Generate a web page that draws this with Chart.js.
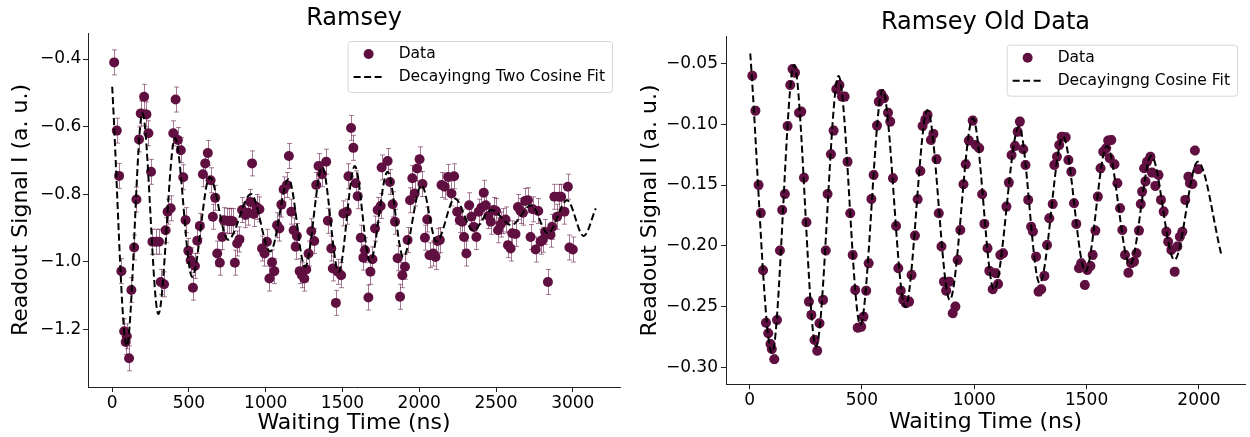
<!DOCTYPE html>
<html>
<head>
<meta charset="utf-8">
<script src="https://cdn.jsdelivr.net/npm/chart.js@4.4.1/dist/chart.umd.min.js"></script>
<style>
  html, body { margin: 0; padding: 0; background: #fff; }
  #wrap { position: relative; width: 1250px; height: 437px; overflow: hidden; }
  #wrap canvas { position: absolute; top: 0; }
</style>
</head>
<body>
<div id="wrap">
  <canvas id="newChart" width="625" height="437" style="left:0"></canvas>
  <canvas id="oldChart" width="625" height="437" style="left:625px"></canvas>
</div>
<script>
// Ramsey (new) - measured points [time ns, signal]
const newPoints = [
  [13,-0.41],[30,-0.612],[45,-0.746],[60,-1.028],[78,-1.206],[88,-1.238],[95,-1.221],[110,-1.286],
  [125,-1.084],[143,-0.958],[158,-0.816],[175,-0.638],[186,-0.561],[208,-0.512],[223,-0.564],[236,-0.62],
  [253,-0.734],[262,-0.941],[284,-0.941],[305,-0.941],[316,-1.06],[338,-1.067],[348,-0.907],[361,-0.852],
  [381,-0.842],[398,-0.62],[413,-0.52],[428,-0.64],[447,-0.67],[463,-0.75],[478,-0.877],[496,-0.968],
  [511,-0.996],[526,-1.077],[539,-1.013],[554,-0.938],[571,-0.894],[591,-0.741],[606,-0.709],[623,-0.678],
  [641,-0.759],[656,-0.867],[671,-0.811],[684,-0.976],[701,-1.003],[716,-0.927],[727,-0.877],[749,-0.879],
  [760,-0.88],[771,-0.879],[785,-0.88],[799,-1.003],[814,-0.946],[829,-0.934],[846,-0.847],[868,-0.862],
  [885,-0.855],[900,-0.823],[911,-0.709],[922,-0.859],[940,-0.838],[959,-0.845],[976,-0.961],[992,-0.976],
  [1008,-0.941],[1024,-1.05],[1041,-1.002],[1056,-1.028],[1074,-0.892],[1089,-0.902],[1102,-0.831],[1117,-0.786],
  [1138,-0.773],[1151,-0.687],[1167,-0.852],[1182,-0.907],[1195,-0.956],[1203,-0.924],[1221,-1.028],[1236,-1.04],
  [1251,-1.05],[1264,-1.023],[1279,-0.976],[1297,-0.91],[1316,-0.939],[1329,-0.773],[1344,-0.717],[1366,-0.741],
  [1394,-0.704],[1405,-0.879],[1427,-0.961],[1437,-1.02],[1457,-1.122],[1470,-1.03],[1491,-1.04],[1506,-0.857],
  [1528,-0.852],[1539,-0.747],[1556,-0.604],[1571,-0.663],[1586,-0.768],[1599,-0.806],[1619,-0.929],[1636,-0.988],
  [1647,-0.966],[1669,-1.106],[1682,-1.03],[1695,-0.993],[1712,-0.902],[1729,-0.847],[1749,-0.835],[1755,-0.721],
  [1794,-0.702],[1809,-0.764],[1827,-0.83],[1842,-0.882],[1859,-0.99],[1875,-1.104],[1890,-1.04],[1907,-1.015],
  [1924,-0.936],[1940,-0.818],[1955,-0.753],[1970,-0.798],[1986,-0.724],[2002,-0.697],[2021,-0.77],[2037,-0.929],
  [2052,-0.875],[2067,-0.981],[2091,-0.976],[2106,-0.986],[2119,-0.939],[2134,-0.936],[2145,-0.773],[2166,-0.778],
  [2188,-0.749],[2210,-0.798],[2227,-0.747],[2247,-0.852],[2264,-0.877],[2280,-0.882],[2292,-0.927],[2307,-0.976],
  [2325,-0.833],[2340,-0.867],[2355,-0.897],[2372,-0.927],[2387,-0.852],[2405,-0.84],[2420,-0.796],[2433,-0.833],
  [2450,-0.865],[2466,-0.882],[2485,-0.847],[2500,-0.85],[2513,-0.907],[2530,-0.89],[2545,-0.88],[2562,-0.875],
  [2578,-0.951],[2595,-0.961],[2606,-0.916],[2627,-0.918],[2643,-0.838],[2660,-0.85],[2675,-0.855],[2690,-0.82],
  [2708,-0.818],[2725,-0.927],[2740,-0.845],[2758,-0.964],[2775,-0.85],[2790,-0.941],[2805,-0.935],[2820,-0.912],
  [2838,-1.06],[2855,-0.92],[2866,-0.897],[2880,-0.808],[2898,-0.867],[2910,-0.808],[2924,-0.808],[2946,-0.852],
  [2968,-0.778],[2978,-0.958],[3000,-0.964]
];
const newErr = 0.037;
// fit curve (turning points)
const newFit = [
  [0,-0.482],[95,-1.25],[197,-0.56],[301,-1.155],[409,-0.634],[521,-1.045],[635,-0.75],[755,-0.935],
  [905,-0.80],[1030,-0.97],[1149,-0.755],[1257,-1.015],[1368,-0.72],[1475,-1.03],[1580,-0.717],[1680,-1.0],
  [1794,-0.734],[1896,-0.986],[2015,-0.773],[2113,-0.941],[2232,-0.813],[2351,-0.907],[2470,-0.847],[2600,-0.892],
  [2729,-0.833],[2838,-0.916],[2963,-0.818],[3071,-0.924],[3150,-0.842]
];
const newXTicks = [0, 500, 1000, 1500, 2000, 2500, 3000];
const newYTicks = [-1.2, -1.0, -0.8, -0.6, -0.4];

// Ramsey old data
const oldPoints = [
  [12,-0.0602],[26,-0.0889],[40,-0.15],[50,-0.173],[60,-0.22],[73,-0.263],[83,-0.2717],[93,-0.2805],
  [99,-0.2846],[110,-0.293],[122,-0.2608],[135,-0.2038],[145,-0.1705],[157,-0.1573],[169,-0.1015],[181,-0.0678],
  [191,-0.0547],[202,-0.0577],[220,-0.0906],[230,-0.0897],[242,-0.144],[253,-0.1806],[264,-0.2457],[275,-0.2566],
  [289,-0.2772],[301,-0.286],[311,-0.2635],[327,-0.2443],[339,-0.2038],[347,-0.1573],[362,-0.1247],[374,-0.1053],
  [386,-0.0714],[400,-0.0678],[411,-0.0774],[423,-0.0774],[436,-0.1308],[448,-0.1732],[459,-0.2074],[470,-0.2361],
  [481,-0.2671],[497,-0.2663],[507,-0.2581],[519,-0.2367],[530,-0.2142],[542,-0.1614],[552,-0.1417],[567,-0.1012],
  [575,-0.0815],[586,-0.0752],[598,-0.0788],[616,-0.0906],[626,-0.0979],[638,-0.1444],[652,-0.1836],[662,-0.2183],
  [673,-0.2367],[684,-0.2443],[695,-0.247],[710,-0.2457],[721,-0.2238],[736,-0.1915],[748,-0.1617],[760,-0.1384],
  [770,-0.1015],[782,-0.0965],[792,-0.0924],[807,-0.113],[818,-0.108],[832,-0.1288],[842,-0.1732],[854,-0.2005],
  [865,-0.2293],[875,-0.2367],[889,-0.2293],[904,-0.2553],[916,-0.2498],[926,-0.2115],[938,-0.1869],[952,-0.1493],
  [962,-0.1329],[976,-0.1135],[993,-0.0971],[1007,-0.1171],[1022,-0.1198],[1035,-0.1576],[1045,-0.1819],[1059,-0.2019],
  [1067,-0.2205],[1082,-0.2356],[1095,-0.2224],[1106,-0.2312],[1116,-0.2074],[1128,-0.206],[1143,-0.1677],[1154,-0.148],
  [1166,-0.1253],[1181,-0.1179],[1193,-0.1062],[1203,-0.0979],[1218,-0.1206],[1228,-0.1335],[1240,-0.1622],[1253,-0.1842],
  [1261,-0.1882],[1275,-0.2088],[1286,-0.2375],[1298,-0.2356],[1312,-0.2246],[1324,-0.1992],[1334,-0.1773],[1349,-0.1655],
  [1356,-0.1335],[1368,-0.1267],[1378,-0.1171],[1389,-0.1103],[1407,-0.1108],[1419,-0.1294],[1432,-0.139],[1444,-0.165],
  [1454,-0.1819],[1466,-0.2183],[1476,-0.2142],[1492,-0.232],[1503,-0.2197],[1517,-0.2164],[1527,-0.2074],[1539,-0.1874],
  [1550,-0.1595],[1562,-0.1362],[1574,-0.1226],[1587,-0.1198],[1596,-0.1135],[1603,-0.128],[1610,-0.113],[1624,-0.1329],
  [1637,-0.1485],[1649,-0.169],[1659,-0.1869],[1671,-0.2074],[1686,-0.222],[1698,-0.2142],[1711,-0.2129],[1722,-0.206],
  [1733,-0.1874],[1741,-0.1655],[1747,-0.1554],[1756,-0.1362],[1762,-0.147],[1769,-0.1308],[1784,-0.1267],[1791,-0.1398],
  [1806,-0.1507],[1820,-0.1417],[1831,-0.1622],[1843,-0.1718],[1855,-0.1883],[1863,-0.1965],[1877,-0.2033],[1892,-0.2211],
  [1904,-0.2005],[1915,-0.1924],[1926,-0.1883],[1939,-0.1622],[1953,-0.1431],[1960,-0.1485],[1971,-0.1491],[1982,-0.1217],
  [1996,-0.137]
];
const oldErr = 0.0035;
const oldFit = [
  [3,-0.042],[100,-0.288],[198,-0.0514],[296,-0.2827],[396,-0.0604],[493,-0.2649],[592,-0.0719],[693,-0.2503],
  [792,-0.0884],[891,-0.2443],[994,-0.0952],[1088,-0.236],[1199,-0.102],[1291,-0.2306],[1395,-0.1103],[1495,-0.221],
  [1590,-0.118],[1693,-0.2156],[1788,-0.126],[1891,-0.2115],[1995,-0.1308],[2100,-0.2074]
];
const oldXTicks = [0, 500, 1000, 1500, 2000];
const oldYTicks = [-0.30, -0.25, -0.20, -0.15, -0.10, -0.05];

const markerColor = '#5f0f40';
const errColor = 'rgba(95, 15, 64, 0.55)';
const fontFamily = '"DejaVu Sans", sans-serif';

Chart.defaults.font.family = fontFamily;
Chart.defaults.color = '#000';

const toXY = (pts) => pts.map(p => ({ x: p[0], y: p[1] }));
const minus = (s) => s.replace('-', '\u2212');

// vertical error bars under the markers
const errorBars = {
    id: 'errorBars',
    beforeDatasetsDraw(chart, args, opts) {
        const { ctx, chartArea, scales: { x, y } } = chart;
        const ds = chart.data.datasets[opts.index];
        ctx.save();
        ctx.beginPath();
        ctx.rect(chartArea.left, chartArea.top, chartArea.width, chartArea.height);
        ctx.clip();
        ctx.strokeStyle = opts.color;
        ctx.lineWidth = 1;
        ds.data.forEach(p => {
            const px = Math.round(x.getPixelForValue(p.x)) + 0.5;
            const top = y.getPixelForValue(p.y + opts.err);
            const bot = y.getPixelForValue(p.y - opts.err);
            ctx.beginPath();
            ctx.moveTo(px, top); ctx.lineTo(px, bot);
            ctx.moveTo(px - opts.cap, top); ctx.lineTo(px + opts.cap, top);
            ctx.moveTo(px - opts.cap, bot); ctx.lineTo(px + opts.cap, bot);
            ctx.stroke();
        });
        ctx.restore();
    }
};

// matplotlib-like legend box in the upper right corner
const boxLegend = {
    id: 'boxLegend',
    afterDraw(chart, args, opts) {
        const { ctx, chartArea } = chart;
        ctx.save();
        ctx.font = '15.5px ' + fontFamily;
        const textW = Math.max(...opts.labels.map(l => ctx.measureText(l).width));
        const w = 51 + textW + 7, h = 51;
        const right = chartArea.right - 8, top = chartArea.top + 8;
        const left = right - w;
        ctx.beginPath();
        if (ctx.roundRect) ctx.roundRect(left + 0.5, top + 0.5, w, h, 3);
        else ctx.rect(left + 0.5, top + 0.5, w, h);
        ctx.fillStyle = 'rgba(255,255,255,0.8)';
        ctx.fill();
        ctx.strokeStyle = '#d6d6d6';
        ctx.lineWidth = 1;
        ctx.stroke();

        ctx.fillStyle = markerColor;
        ctx.beginPath();
        ctx.arc(left + 21, top + 13, 5, 0, Math.PI * 2);
        ctx.fill();

        ctx.strokeStyle = '#000';
        ctx.lineWidth = 2;
        ctx.setLineDash([7, 3.5]);
        ctx.beginPath();
        ctx.moveTo(left + 6, top + 36);
        ctx.lineTo(left + 37, top + 36);
        ctx.stroke();
        ctx.setLineDash([]);

        ctx.fillStyle = '#000';
        ctx.textAlign = 'left';
        ctx.textBaseline = 'middle';
        ctx.fillText(opts.labels[0], left + 51, top + 13);
        ctx.fillText(opts.labels[1], left + 51, top + 36);
        ctx.restore();
    }
};

const makeChart = (id, c) => {
    const ctx = document.getElementById(id).getContext('2d');
    return new Chart(ctx, {
        type: 'scatter',
        data: {
            datasets: [
                {
                    label: c.fitLabel,
                    data: toXY(c.fit),
                    showLine: true,
                    borderColor: '#000',
                    borderWidth: 2,
                    borderDash: [7, 3.5],
                    pointRadius: 0,
                    cubicInterpolationMode: 'monotone',
                    order: 0
                },
                {
                    label: 'Data',
                    data: toXY(c.points),
                    pointRadius: 5,
                    pointBorderWidth: 0,
                    pointBackgroundColor: markerColor,
                    pointBorderColor: markerColor,
                    order: 1
                }
            ]
        },
        options: {
            responsive: false,
            animation: false,
            devicePixelRatio: 1,
            layout: { padding: { left: 0, right: c.padRight, top: 0, bottom: 0 } },
            plugins: {
                legend: { display: false },
                tooltip: { enabled: false },
                title: {
                    display: true,
                    text: c.title,
                    fullSize: false,
                    font: { size: 24, weight: 'normal' },
                    color: '#000',
                    padding: c.titlePad
                },
                errorBars: { index: 1, err: c.err, color: errColor, cap: 2.5 },
                boxLegend: { labels: ['Data', c.fitLabel] }
            },
            scales: {
                x: {
                    type: 'linear',
                    min: c.xMin,
                    max: c.xMax,
                    afterBuildTicks: s => { s.ticks = c.xTicks.map(v => ({ value: v })); },
                    afterFit: s => { s.height = c.xHeight; },
                    ticks: { font: { size: 17 }, color: '#000', padding: 1.5, maxRotation: 0, autoSkip: false,
                             callback: v => String(v) },
                    grid: { drawOnChartArea: false, drawTicks: true, tickLength: 5, tickColor: '#222' },
                    border: { display: true, color: '#222', width: 1 },
                    title: { display: true, text: 'Waiting Time (ns)', font: { size: 22 }, color: '#000',
                             padding: { top: 0, bottom: c.xTitlePad } }
                },
                y: {
                    type: 'linear',
                    min: c.yMin,
                    max: c.yMax,
                    afterBuildTicks: s => { s.ticks = c.yTicks.map(v => ({ value: v })); },
                    afterFit: s => { s.width = c.yWidth; },
                    ticks: { font: { size: 17 }, color: '#000', padding: c.yTickPad, autoSkip: false,
                             callback: v => minus(v.toFixed(c.yDigits)) },
                    grid: { drawOnChartArea: false, drawTicks: true, tickLength: 5, tickColor: '#222' },
                    border: { display: true, color: '#222', width: 1 },
                    title: { display: true, text: 'Readout Signal I (a. u.)', font: { size: 22 }, color: '#000',
                             padding: { top: c.yTitlePad, bottom: 0 } }
                }
            }
        },
        plugins: [errorBars, boxLegend]
    });
};

makeChart('newChart', {
    title: 'Ramsey',
    fitLabel: 'Decayingng Two Cosine Fit',
    points: newPoints, fit: newFit, err: newErr,
    xMin: -157.5, xMax: 3307.5, xTicks: newXTicks,
    yMin: -1.371, yMax: -0.323, yTicks: newYTicks, yDigits: 1,
    padRight: 3, yWidth: 88, xHeight: 50,
    titlePad: { top: 4, bottom: 0.2 },
    xTitlePad: 0.5, yTitlePad: 8.5, yTickPad: 1.6
});

makeChart('oldChart', {
    title: 'Ramsey Old Data',
    fitLabel: 'Decayingng Cosine Fit',
    points: oldPoints, fit: oldFit, err: oldErr,
    xMin: -105, xMax: 2205, xTicks: oldXTicks,
    yMin: -0.3136, yMax: -0.0282, yTicks: oldYTicks, yDigits: 2,
    padRight: 0, yWidth: 101, xHeight: 52.7,
    titlePad: { top: 7.9, bottom: 0 },
    xTitlePad: 1.2, yTitlePad: 11.8, yTickPad: 3
});
</script>
</body>
</html>
